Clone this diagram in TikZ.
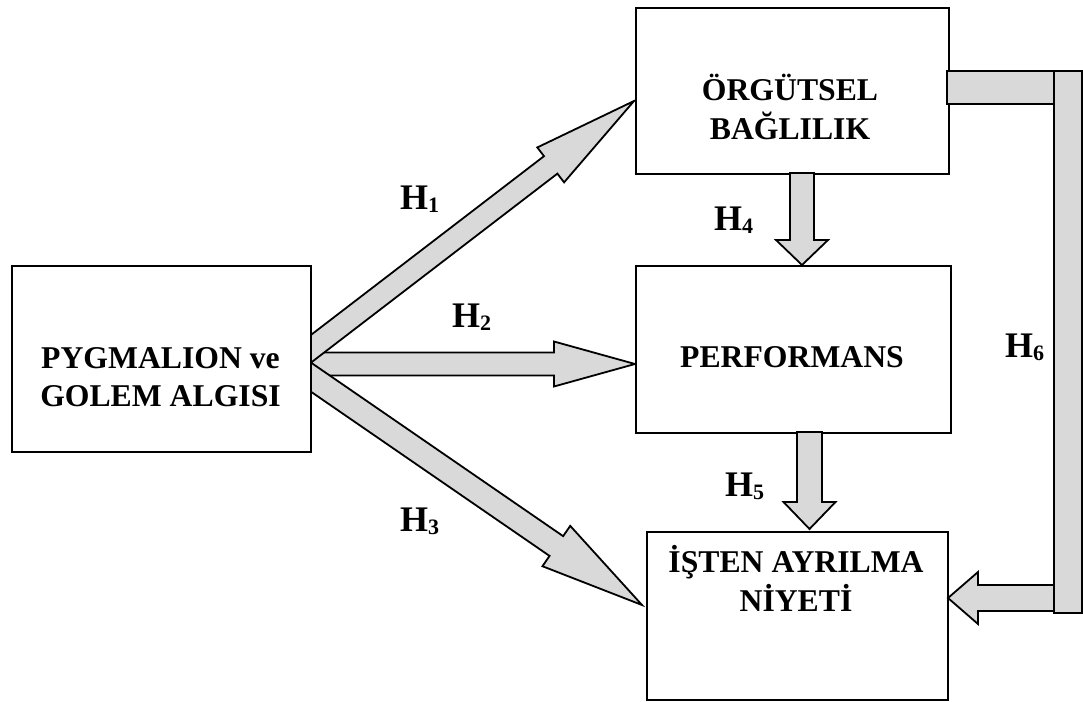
\documentclass[tikz,border=0pt]{standalone}
\usepackage{fontspec}
\setmainfont{Liberation Serif}
\usetikzlibrary{calc}
\definecolor{arrowgray}{HTML}{D9D9D9}
\tikzset{
  boxstyle/.style={draw=black, line width=1.8pt, fill=white, inner sep=0pt, anchor=north west},
  barrow/.style={draw=black, fill=arrowgray, line width=1.8pt, line join=miter},
  lbl/.style={anchor=base, inner sep=0pt, font=\fontsize{31.7}{39}\selectfont\bfseries},
  hlbl/.style={anchor=base west, inner sep=0pt, font=\fontsize{36}{40}\selectfont\bfseries},
}
\newcommand\hsub[1]{\raisebox{-3pt}{\fontsize{22}{22}\selectfont #1}}
\newcommand\blockarrow[5]{%
  \coordinate (bahead) at ($(#2)!#5!(#1)$);
  \filldraw[barrow] ($(#1)!#3!90:(#2)$) -- ($(bahead)!#3!90:(#2)$) -- ($(bahead)!#4!90:(#2)$) -- (#2)
    -- ($(bahead)!#4!-90:(#2)$) -- ($(bahead)!#3!-90:(#2)$) -- ($(#1)!#3!-90:(#2)$) -- cycle;}
\begin{document}
\begin{tikzpicture}[x=1pt,y=-1pt]
\useasboundingbox (0,0) rectangle (1083,701);
% coordinates for connector ends
\coordinate (t2) at (300,364);   \coordinate (e2) at (635,364);
\coordinate (t1) at (300,357.2); \coordinate (e1) at (634,101);
\coordinate (t3) at (300,369.6); \coordinate (e3) at (642,605);
\coordinate (t4) at (802,173);   \coordinate (e4) at (802,265);
\coordinate (t5) at (809.5,432); \coordinate (e5) at (809.5,529);
\coordinate (t6) at (1054,598);  \coordinate (e6) at (948,598);
% arrows from the left box
\blockarrow{t2}{e2}{11.5pt}{22.5pt}{81pt}
\blockarrow{t1}{e1}{11pt}{22pt}{105pt}
\blockarrow{t3}{e3}{12pt}{24.5pt}{104pt}
% boxes
\node[boxstyle, minimum width=299pt, minimum height=186pt] (pyg) at (11,265) {};
\node[boxstyle, minimum width=313pt, minimum height=166pt] (org) at (635,7) {};
\node[boxstyle, minimum width=315pt, minimum height=167pt] (perf) at (635,265) {};
\node[boxstyle, minimum width=301pt, minimum height=168pt] (isten) at (646,531) {};
% vertical arrows
\blockarrow{t4}{e4}{12pt}{26pt}{25pt}
\blockarrow{t5}{e5}{12.5pt}{26pt}{27pt}
% H6 elbow connector
\coordinate (b6a) at (947,71);
\coordinate (b6b) at (1054,104);
\coordinate (b6c) at (1054,71);
\coordinate (b6d) at (1082,613);
\filldraw[barrow] (b6a) rectangle (b6b);
\blockarrow{t6}{e6}{13pt}{26pt}{30pt}
\filldraw[barrow] (b6c) rectangle (b6d);
% box texts
\node[lbl] (pygA) at (160.5,368) {PYGMALION ve};
\node[lbl] (pygB) at (160.5,406) {GOLEM ALGISI};
\node[lbl] (orgA) at (790,100) {ÖRGÜTSEL};
\node[lbl] (orgB) at (790,139) {BAĞLILIK};
\node[lbl] (perfA) at (792,367) {PERFORMANS};
\node[lbl] (istA) at (796,572) {İŞTEN AYRILMA};
\node[lbl] (istB) at (796,611) {NİYETİ};
% hypothesis labels
\node[hlbl] (h1) at (400,209) {H\hsub{1}};
\node[hlbl] (h2) at (452,327) {H\hsub{2}};
\node[hlbl] (h3) at (400,531) {H\hsub{3}};
\node[hlbl] (h4) at (714,230) {H\hsub{4}};
\node[hlbl] (h5) at (725,496) {H\hsub{5}};
\node[hlbl] (h6) at (1005,357) {H\hsub{6}};
\end{tikzpicture}
\end{document}
